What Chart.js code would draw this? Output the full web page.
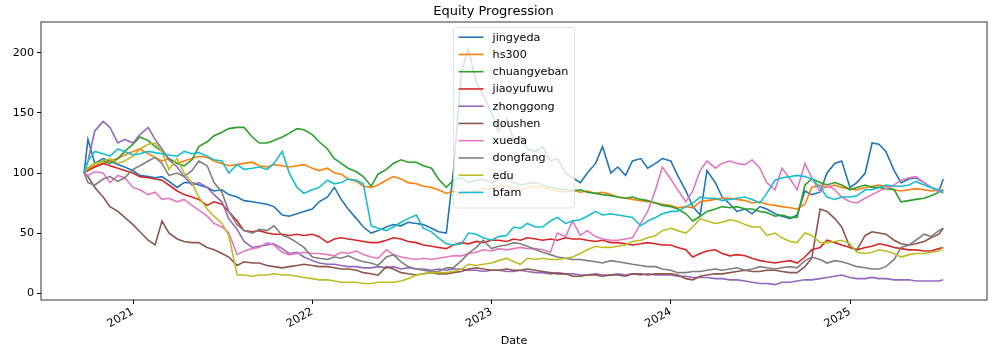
<!DOCTYPE html>
<html>
<head>
<meta charset="utf-8">
<title>Equity Progression</title>
<script src="https://cdn.jsdelivr.net/npm/chart.js@4.4.1/dist/chart.umd.min.js"></script>
<style>
  html, body { margin: 0; padding: 0; background: #fff; }
  #wrap { width: 998px; height: 354px; }
</style>
</head>
<body>
<div id="wrap"><canvas id="chart" width="998" height="354"></canvas></div>
<script>
// sample dates (half-monthly)
var dates = ['2020-09-23',
  '2020-10-01','2020-10-15','2020-11-01','2020-11-15','2020-12-01','2020-12-15',
  '2021-01-01','2021-01-15','2021-02-01','2021-02-15','2021-03-01','2021-03-15','2021-04-01','2021-04-15',
  '2021-05-01','2021-05-15','2021-06-01','2021-06-15','2021-07-01','2021-07-15','2021-08-01','2021-08-15',
  '2021-09-01','2021-09-15','2021-10-01','2021-10-15','2021-11-01','2021-11-15','2021-12-01','2021-12-15',
  '2022-01-01','2022-01-15','2022-02-01','2022-02-15','2022-03-01','2022-03-15','2022-04-01','2022-04-15',
  '2022-05-01','2022-05-15','2022-06-01','2022-06-15','2022-07-01','2022-07-15','2022-08-01','2022-08-15',
  '2022-09-01','2022-09-15','2022-10-01','2022-10-15','2022-11-01','2022-11-15','2022-12-01','2022-12-15',
  '2023-01-01','2023-01-15','2023-02-01','2023-02-15','2023-03-01','2023-03-15','2023-04-01','2023-04-15',
  '2023-05-01','2023-05-15','2023-06-01','2023-06-15','2023-07-01','2023-07-15','2023-08-01','2023-08-15',
  '2023-09-01','2023-09-15','2023-10-01','2023-10-15','2023-11-01','2023-11-15','2023-12-01','2023-12-15',
  '2024-01-01','2024-01-15','2024-02-01','2024-02-15','2024-03-01','2024-03-15','2024-04-01','2024-04-15',
  '2024-05-01','2024-05-15','2024-06-01','2024-06-15','2024-07-01','2024-07-15','2024-08-01','2024-08-15',
  '2024-09-01','2024-09-15','2024-10-01','2024-10-15','2024-11-01','2024-11-15','2024-12-01','2024-12-15',
  '2025-01-01','2025-01-15','2025-02-01','2025-02-15','2025-03-01','2025-03-15','2025-04-01','2025-04-15',
  '2025-05-01','2025-05-15','2025-06-01','2025-06-15','2025-07-01','2025-07-10'];

var jingyeda = [100,128,108,112,110,107,105,102,98,97,
  96,97,93,88,92,92,90,88,85,86,
  82,80,77,76,75,74,72,65,64,66,
  68,70,76,80,88,78,70,62,55,50,
  52,55,57,56,59,58,57,54,51,50,
  100,185,203,175,165,150,135,145,128,130,
  120,118,122,110,112,100,96,92,100,108,
  122,100,105,98,110,112,104,108,112,110,
  98,85,72,65,102,92,80,74,68,70,
  66,72,70,66,64,62,65,85,82,84,
  100,108,110,88,92,100,125,124,118,102,
  92,95,96,92,88,85,95];

var hs300 = [100,103,106,108,110,112,115,118,120,116,
  113,110,112,108,110,112,114,113,110,108,
  106,107,108,109,106,105,107,106,105,106,
  107,104,102,104,100,99,95,93,89,88,
  90,94,97,95,92,91,89,88,86,83,
  85,82,84,85,87,87,89,90,87,86,
  88,89,88,86,85,84,86,84,85,83,
  84,82,80,79,78,77,76,75,74,73,
  71,72,71,76,77,78,79,79,78,77,
  75,76,74,73,72,71,70,74,88,90,
  88,90,88,87,86,88,89,90,89,86,
  85,86,87,86,85,86,85];

var chuangyeban = [100,104,108,110,108,112,118,124,130,127,
  122,118,112,108,106,111,122,126,131,134,
  137,138,138,130,125,125,127,130,133,137,
  136,132,126,120,112,108,104,101,97,89,
  99,103,108,111,109,109,106,104,95,88,
  94,96,92,94,95,92,95,96,92,90,
  91,92,90,88,87,86,85,86,84,83,
  82,81,80,79,80,78,77,75,73,72,
  70,66,60,64,68,70,72,71,72,70,
  70,68,67,64,65,63,63,90,95,92,
  90,92,90,86,88,90,88,88,87,86,
  76,77,78,79,81,84,86];

var jiaoyufuwu = [100,102,105,108,106,104,102,100,97,96,
  95,94,90,85,82,80,78,73,76,74,
  68,60,52,51,52,50,49,49,48,49,
  48,49,47,42,45,46,45,44,43,42,
  42,44,46,45,43,42,40,39,38,37,
  40,42,41,43,42,44,44,43,45,44,
  46,45,44,45,44,46,45,45,44,43,
  44,42,42,41,40,41,42,41,40,40,
  38,36,30,33,35,36,33,31,32,31,
  29,27,26,25,26,27,25,30,36,38,
  44,42,40,38,36,38,39,41,40,38,
  37,36,36,35,35,37,38];

var zhonggong = [100,110,135,143,138,125,128,125,132,138,
  128,120,111,105,97,90,92,88,82,76,
  62,53,43,38,39,40,41,37,33,34,
  30,27,25,24,24,23,22,22,21,21,
  22,21,22,20,21,20,20,19,20,19,
  20,20,19,19,18,19,19,18,18,19,
  18,17,17,16,17,16,16,15,15,16,
  15,15,16,15,16,15,16,15,15,15,
  14,14,13,13,13,12,12,11,11,10,
  9,8,8,7,9,9,10,11,11,12,
  13,14,15,13,12,12,13,12,12,11,
  11,11,10,10,10,10,11];

var doushen = [100,97,88,80,72,68,63,57,51,44,
  40,60,50,45,43,42,42,38,36,33,
  30,23,26,25,25,23,22,21,22,23,
  24,23,22,22,21,20,20,19,17,16,
  15,22,20,17,16,15,16,17,16,16,
  17,18,20,21,20,19,19,20,19,19,
  20,19,18,17,16,16,14,14,15,15,
  14,15,15,14,16,16,15,16,16,16,
  15,12,11,14,15,16,16,17,18,19,
  18,18,19,19,18,17,17,22,29,70,
  68,62,55,38,36,48,51,50,49,44,
  41,40,41,43,46,49,54];

var xueda = [100,98,101,100,92,98,96,88,86,82,
  84,78,79,76,78,73,69,64,58,55,
  50,32,35,37,38,42,40,34,32,33,
  34,33,33,32,31,34,33,35,32,30,
  29,36,32,30,29,28,29,28,29,30,
  31,31,33,34,36,35,37,36,37,38,
  37,37,36,34,50,47,60,48,52,47,
  45,44,44,45,46,58,68,86,105,95,
  86,76,85,102,110,104,108,110,108,107,
  111,104,92,86,104,95,86,108,96,84,
  90,86,80,76,75,79,82,85,87,90,
  94,96,97,92,88,84,85];

var dongfang = [100,92,90,95,97,93,96,103,106,110,
  113,108,98,100,97,102,110,106,92,84,
  68,57,52,50,53,52,56,48,46,42,
  38,30,29,28,30,29,31,28,26,25,
  23,30,32,26,22,20,19,18,18,21,
  21,27,33,38,44,37,39,40,42,41,
  39,36,34,32,30,29,28,28,27,26,
  25,27,26,25,24,23,22,22,20,19,
  17,17,18,18,19,20,19,20,21,19,
  20,22,21,20,21,22,21,27,30,28,
  25,27,26,24,22,21,20,20,22,28,
  38,40,44,49,47,52,54];

var edu = [100,104,108,110,112,108,110,114,120,124,
  125,118,103,112,100,92,80,70,64,58,
  48,15,15,14,15,15,16,15,15,14,
  13,12,11,11,10,9,9,9,8,8,
  9,9,9,10,12,15,16,17,17,17,
  18,20,24,23,24,25,27,29,26,24,
  29,28,29,28,28,29,30,33,36,39,
  38,38,39,40,43,44,46,48,52,54,
  52,50,55,62,60,58,59,61,60,57,
  55,55,48,50,46,43,42,50,48,42,
  42,43,44,41,34,33,34,36,35,33,
  30,32,33,33,34,35,38];

var bfam = [100,110,118,116,114,120,118,115,116,118,
  117,116,115,114,118,116,117,114,111,110,
  100,107,103,104,105,103,108,118,100,88,
  83,86,88,94,91,92,95,94,91,56,
  54,52,55,59,62,65,54,51,46,41,
  40,41,50,49,46,44,47,48,55,54,
  58,55,55,60,63,58,60,61,64,68,
  65,66,65,64,63,56,60,63,66,68,
  68,72,75,80,79,79,77,78,79,80,
  78,75,83,94,96,97,98,97,95,88,
  80,78,80,80,81,86,86,88,90,89,
  89,90,93,90,88,86,83];

var names = ['jingyeda','hs300','chuangyeban','jiaoyufuwu','zhonggong','doushen','xueda','dongfang','edu','bfam'];
var series = [jingyeda, hs300, chuangyeban, jiaoyufuwu, zhonggong, doushen, xueda, dongfang, edu, bfam];
var colors = ['#1f77b4','#ff7f0e','#2ca02c','#d62728','#9467bd','#8c564b','#e377c2','#7f7f7f','#bcbd22','#17becf'];
var yearTicks = [2021, 2022, 2023, 2024, 2025];
var valueTicks = [0, 50, 100, 150, 200];

var FONT = 'DejaVu Sans';

// date string -> fractional year, so a linear axis can carry it
function toYear(s) {
  var p = s.split('-');
  var y = +p[0];
  var start = Date.UTC(y, 0, 1);
  var end = Date.UTC(y + 1, 0, 1);
  return y + (Date.UTC(y, +p[1] - 1, +p[2]) - start) / (end - start);
}

var datasets = series.map(function (vals, k) {
  return {
    label: names[k],
    data: dates.map(function (d, i) { return { x: toYear(d), y: vals[i] }; }),
    borderColor: colors[k],
    backgroundColor: colors[k],
    borderWidth: 1.6,
    pointRadius: 0,
    tension: 0,
    order: series.length - k   // last series on top, like matplotlib
  };
});

// black box around the plot area
var framePlugin = {
  id: 'frame',
  afterDatasetsDraw: function (chart) {
    var a = chart.chartArea;
    var ctx = chart.ctx;
    ctx.save();
    ctx.strokeStyle = '#000';
    ctx.lineWidth = 0.8;
    ctx.strokeRect(a.left, a.top, a.right - a.left, a.bottom - a.top);
    ctx.restore();
  }
};

// legend inside the plot, upper center, half transparent box
var legendPlugin = {
  id: 'boxLegend',
  afterDraw: function (chart) {
    var a = chart.chartArea;
    var ctx = chart.ctx;
    var rowH = 17.25;
    ctx.save();
    ctx.font = '11.2px "' + FONT + '"';
    var maxW = 0;
    names.forEach(function (n) { maxW = Math.max(maxW, ctx.measureText(n).width); });
    var w = 39 + maxW + 6;
    var h = rowH * names.length + 8;
    var left = (a.left + a.right) / 2 - w / 2;
    var top = a.top + 5.5;
    ctx.beginPath();
    ctx.roundRect(left, top, w, h, 2.5);
    ctx.fillStyle = 'rgba(255,255,255,0.8)';
    ctx.fill();
    ctx.strokeStyle = 'rgba(204,204,204,0.8)';
    ctx.lineWidth = 0.8;
    ctx.stroke();
    ctx.textBaseline = 'middle';
    ctx.textAlign = 'left';
    names.forEach(function (n, k) {
      var y = top + 9.7 + k * rowH;
      ctx.beginPath();
      ctx.moveTo(left + 5, y);
      ctx.lineTo(left + 30, y);
      ctx.strokeStyle = colors[k];
      ctx.lineWidth = 1.6;
      ctx.stroke();
      ctx.fillStyle = '#000';
      ctx.fillText(n, left + 39, y + 0.5);
    });
    ctx.restore();
  }
};

var chart = new Chart(document.getElementById('chart').getContext('2d'), {
  type: 'line',
  data: { datasets: datasets },
  options: {
    responsive: false,
    animation: false,
    devicePixelRatio: 1,
    layout: { padding: { left: 0, right: 11, top: 0, bottom: 0 } },
    plugins: {
      legend: { display: false },
      tooltip: { enabled: false },
      title: {
        display: true,
        text: 'Equity Progression',
        color: '#000',
        font: { family: FONT, size: 13, weight: 'normal' },
        padding: { top: 4, bottom: 2.4 }
      }
    },
    scales: {
      x: {
        type: 'linear',
        min: 2020.4867,
        max: 2025.7643,
        afterBuildTicks: function (scale) {
          scale.ticks = yearTicks.map(function (v) { return { value: v }; });
        },
        afterFit: function (scale) { scale.height = 54; },
        ticks: {
          autoSkip: false,
          minRotation: 30,
          maxRotation: 30,
          padding: 1,
          color: '#000',
          font: { family: FONT, size: 11.2 },
          callback: function (v) { return String(v); }
        },
        grid: { drawOnChartArea: false, drawTicks: true, tickLength: 4, color: '#000', tickColor: '#000' },
        border: { display: false },
        title: {
          display: true,
          text: 'Date',
          color: '#000',
          font: { family: FONT, size: 11.2 },
          padding: { top: 0, bottom: 6 }
        }
      },
      y: {
        type: 'linear',
        min: -5.8,
        max: 225.8,
        afterBuildTicks: function (scale) {
          scale.ticks = valueTicks.map(function (v) { return { value: v }; });
        },
        afterFit: function (scale) { scale.width = 41; },
        ticks: {
          padding: 3,
          color: '#000',
          font: { family: FONT, size: 11.2 }
        },
        grid: { drawOnChartArea: false, drawTicks: true, tickLength: 4, color: '#000', tickColor: '#000' },
        border: { display: false }
      }
    }
  },
  plugins: [framePlugin, legendPlugin]
});
</script>
</body>
</html>
